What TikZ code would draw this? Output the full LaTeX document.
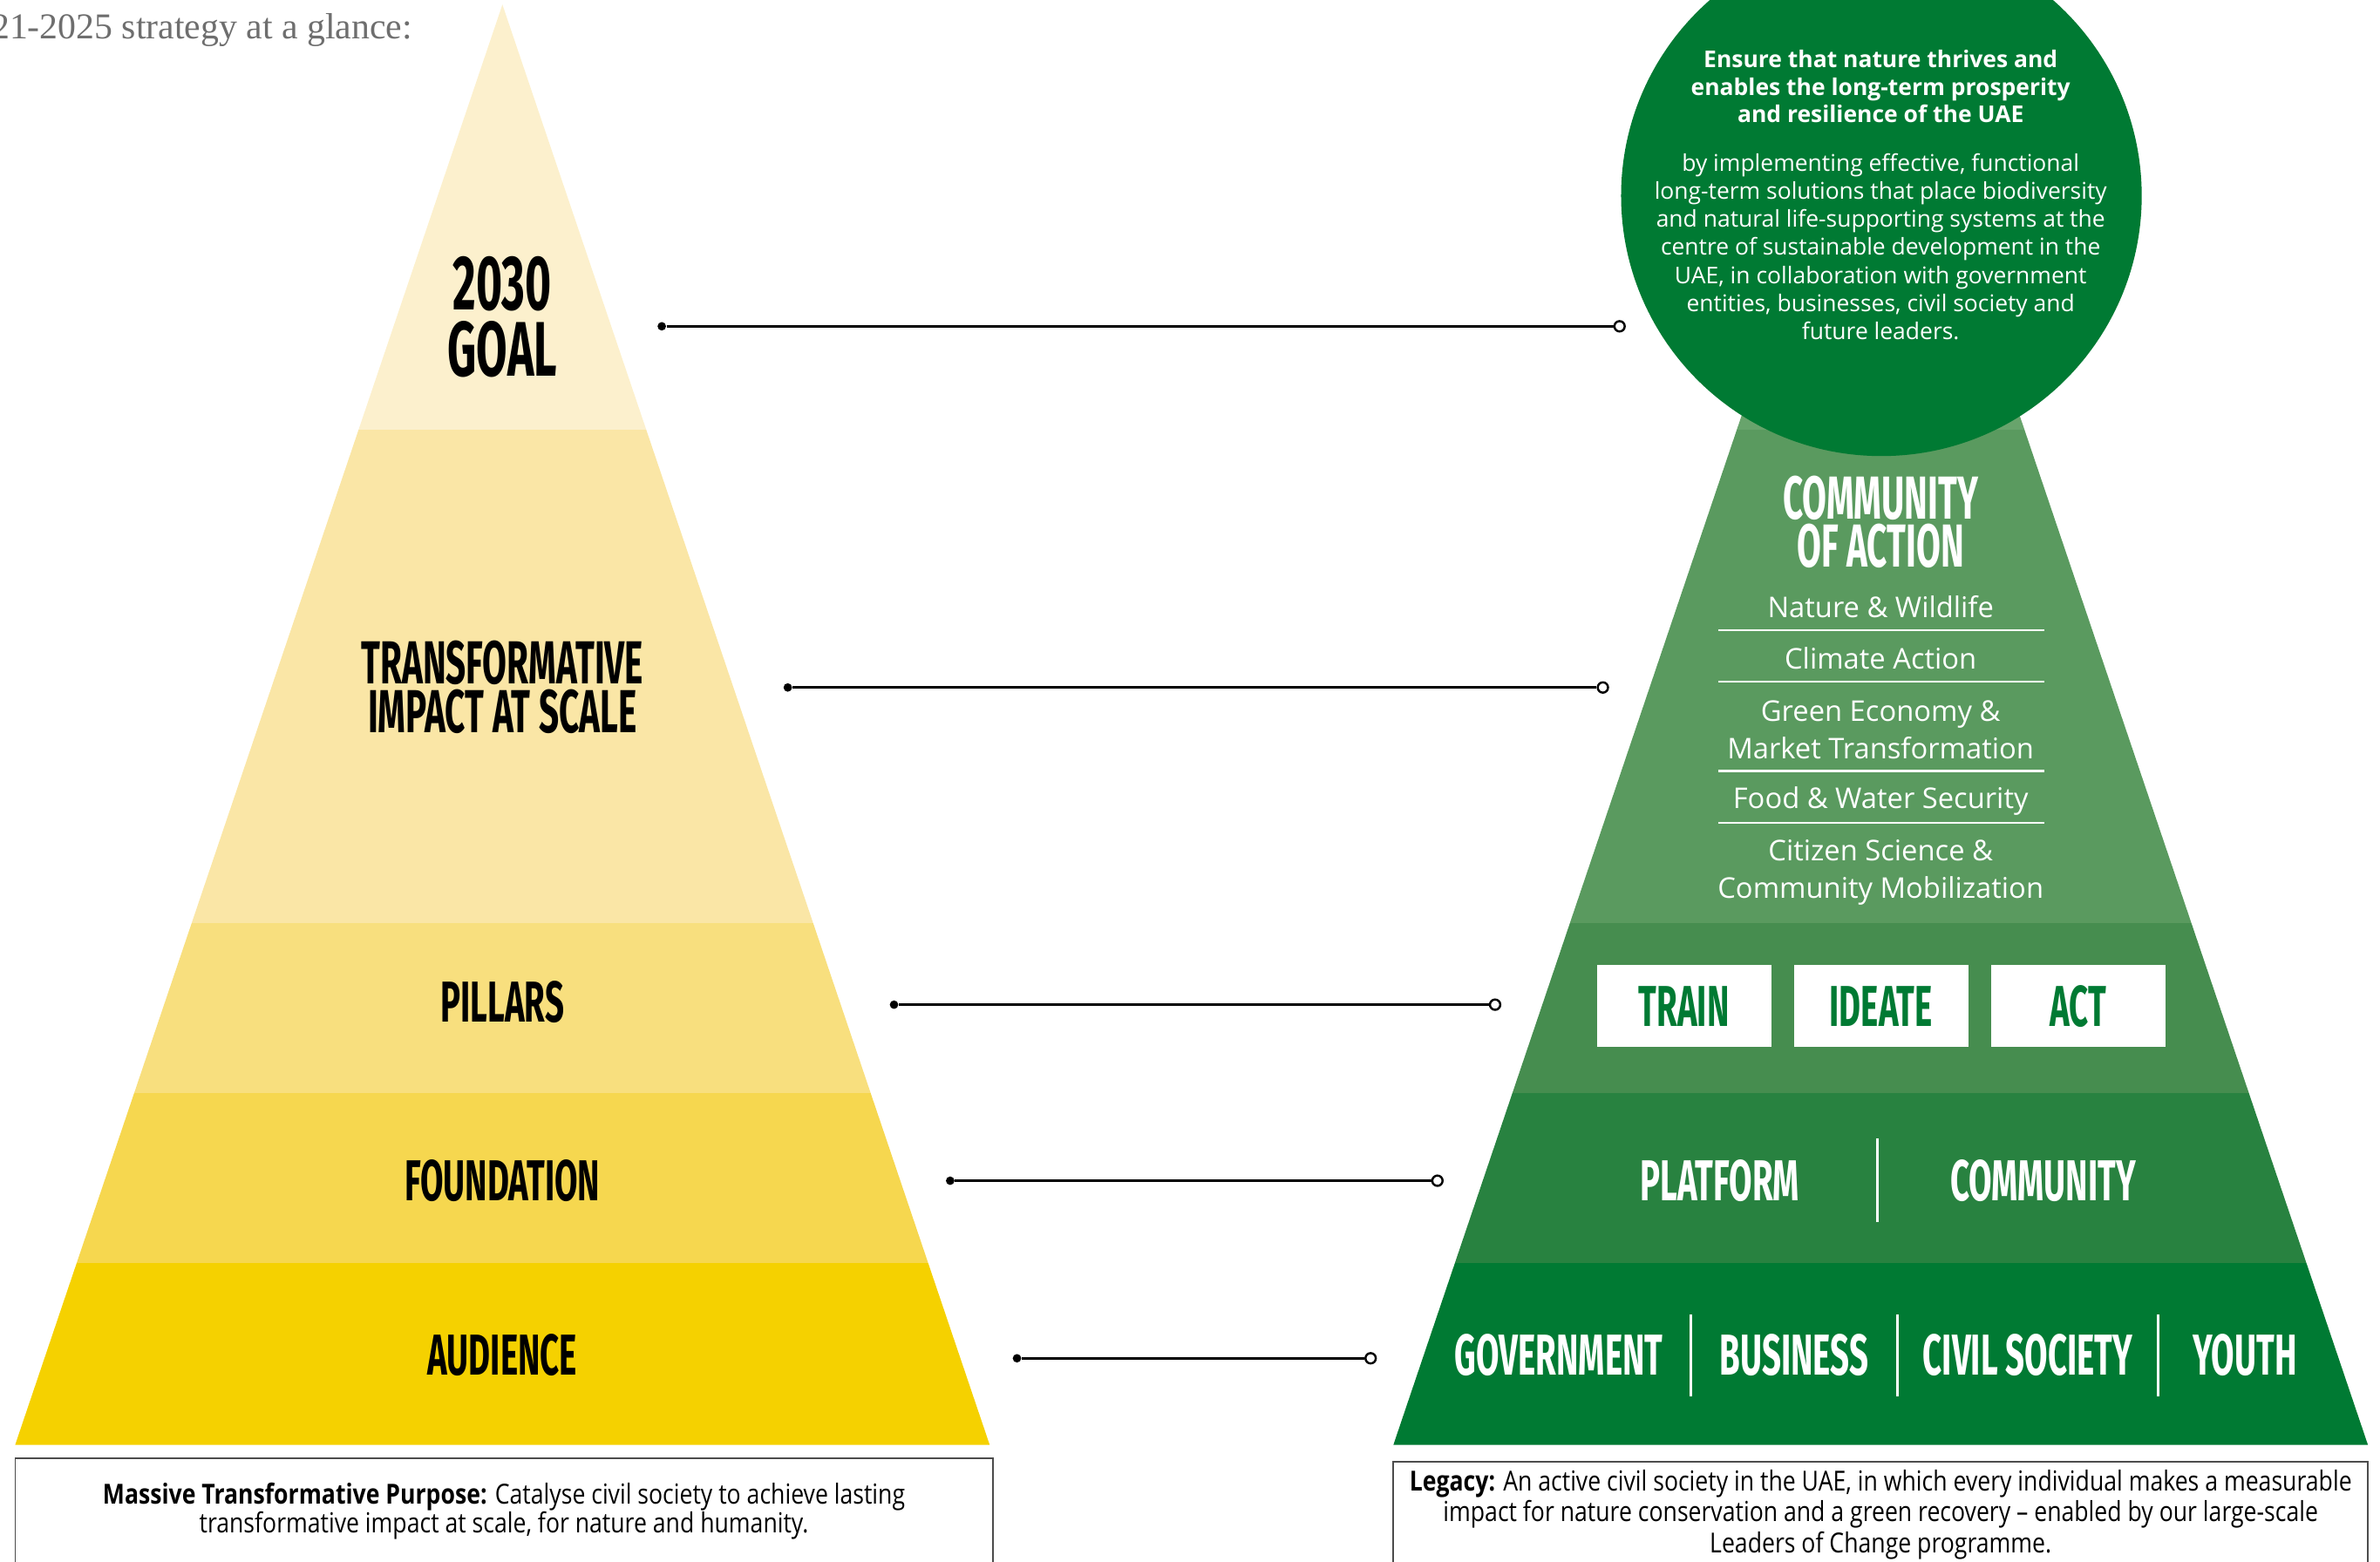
\documentclass[tikz,border=0pt]{standalone}
\usepackage{fontspec}
\setmainfont{Open Sans}
\newfontfamily\headfont{Fira Sans}[FakeStretch=0.58]
\newfontfamily\titlefont{Liberation Serif}
\newfontfamily\boxfont{Open Sans}[FakeStretch=0.84]
\usetikzlibrary{positioning}
\definecolor{goalY}{HTML}{FCF0CD}
\definecolor{impactY}{HTML}{FAE6A6}
\definecolor{pillarY}{HTML}{F8DF7E}
\definecolor{foundY}{HTML}{F6D74F}
\definecolor{audY}{HTML}{F5D100}
\definecolor{goalG}{HTML}{68A46C}
\definecolor{impactG}{HTML}{5A9A5F}
\definecolor{pillarG}{HTML}{468D4F}
\definecolor{foundG}{HTML}{288240}
\definecolor{audG}{HTML}{007A33}
\definecolor{titlegray}{HTML}{6E6E6E}

\begin{document}
\begin{tikzpicture}[
    x=0.5pt, y=-0.5pt,
    tier/.style={font=\headfont\bfseries\fontsize{19}{16}\selectfont, align=center, inner sep=0pt},
    tierG/.style={tier, text=white},
    action/.style={rectangle, fill=white, text=audG, inner sep=0pt, minimum width=57.5pt, minimum height=27pt, font=\headfont\bfseries\fontsize{19}{19}\selectfont},
    topic/.style={text=white, align=center, font=\fontsize{9.4}{12.5}\selectfont},
    dot/.style={circle, fill=black, inner sep=0pt, minimum size=2.8pt},
    ring/.style={circle, draw=black, fill=white, line width=0.7pt, inner sep=0pt, minimum size=3.4pt},
    link/.style={line width=0.8pt},
    caption/.style={font=\boxfont\fontsize{9.1}{9.5}\selectfont, align=center},
    boxline/.style={draw=black!70, line width=0.5pt}
]
\useasboundingbox (0,0) rectangle (1568,1029);

\node[anchor=east, inner sep=0pt, text=titlegray, font=\titlefont\fontsize{12}{12}\selectfont] (title) at (272,20) {2021-2025 strategy at a glance:};

\begin{scope}
\clip (331,3) -- (652,952) -- (10,952) -- cycle;
\fill[goalY] (0,0) rectangle (700,283);
\fill[impactY] (0,283) rectangle (700,608);
\fill[pillarY] (0,608) rectangle (700,720);
\fill[foundY] (0,720) rectangle (700,832);
\fill[audY] (0,832) rectangle (700,952);
\end{scope}

\begin{scope}
\clip (1239,3) -- (1560,952) -- (918,952) -- cycle;
\fill[goalG] (900,0) rectangle (1568,283);
\fill[impactG] (900,283) rectangle (1568,608);
\fill[pillarG] (900,608) rectangle (1568,720);
\fill[foundG] (900,720) rectangle (1568,832);
\fill[audG] (900,832) rectangle (1568,952);
\end{scope}

\node (goallbl) [tier, font=\headfont\bfseries\fontsize{25.5}{25.5}\selectfont] at (331,187) {2030};
\node (goallbl2) [tier, font=\headfont\bfseries\fontsize{25.5}{25.5}\selectfont] at (331,230) {GOAL};
\node (impactlbl) [tier, font=\headfont\bfseries\fontsize{20}{20}\selectfont] at (331,437) {TRANSFORMATIVE};
\node (impactlbl2) [tier, font=\headfont\bfseries\fontsize{20}{20}\selectfont] at (331,469) {IMPACT AT SCALE};
\node (pillarlbl) [tier] at (331,660) {PILLARS};
\node (foundlbl) [tier] at (331,778) {FOUNDATION};
\node (audlbl) [tier] at (331,893) {AUDIENCE};

\node (goal) [circle, fill=audG, inner sep=0pt, minimum size=171.5pt] at (1239.5,129) {};
\node (mission) [text=white, align=center, font=\bfseries\fontsize{7.6}{9}\selectfont] at (1239,57) {Ensure that nature thrives and\\enables the long-term prosperity\\and resilience of the UAE};
\node (means) [text=white, align=center, font=\fontsize{7.6}{9.25}\selectfont] at (1239,162.5) {by implementing effective, functional\\long-term solutions that place biodiversity\\and natural life-supporting systems at the\\centre of sustainable development in the\\UAE, in collaboration with government\\entities, businesses, civil society and\\future leaders.};

\node (coa) [tierG, font=\headfont\bfseries\fontsize{20}{20}\selectfont] at (1239,328) {COMMUNITY};
\node (coa2) [tierG, font=\headfont\bfseries\fontsize{20}{20}\selectfont] at (1239,360) {OF ACTION};
\node (nature) [topic] at (1239,400) {Nature \& Wildlife};
\node (climate) [topic] at (1239,434) {Climate Action};
\node (economy) [topic] at (1239,481) {Green Economy \&\\Market Transformation};
\node (food) [topic] at (1239,528) {Food \& Water Security};
\node (citizen) [topic] at (1239,575) {Citizen Science \&\\Community Mobilization};
\draw[white, line width=0.6pt] (1132,415) -- (1347,415);
\draw[white, line width=0.6pt] (1132,449) -- (1347,449);
\draw[white, line width=0.6pt] (1132,508) -- (1347,508);
\draw[white, line width=0.6pt] (1132,542) -- (1347,542);

\node (train) [action] at (1109.5,663) {TRAIN};
\node (ideate) [action, right=7pt of train] {IDEATE};
\node (act) [action, right=7pt of ideate] {ACT};

\node (platform) [tierG] at (1133,778) {PLATFORM};
\node (community) [tierG] at (1346,778) {COMMUNITY};
\draw[white, line width=0.9pt] (1237,750) -- (1237,805);

\node (gov) [tierG] at (1027,893) {GOVERNMENT};
\node (business) [tierG] at (1182,893) {BUSINESS};
\node (civil) [tierG] at (1336,893) {CIVIL SOCIETY};
\node (youth) [tierG] at (1479,893) {YOUTH};
\draw[white, line width=0.9pt] (1114,866) -- (1114,920);
\draw[white, line width=0.9pt] (1250,866) -- (1250,920);
\draw[white, line width=0.9pt] (1422,866) -- (1422,920);

\node (d1) [dot] at (436,215) {};
\node (r1) [ring] at (1067,215) {};
\node (d2) [dot] at (519,453) {};
\node (r2) [ring] at (1056,453) {};
\node (d3) [dot] at (589,662) {};
\node (r3) [ring] at (985,662) {};
\node (d4) [dot] at (626,778) {};
\node (r4) [ring] at (947,778) {};
\node (d5) [dot] at (670,895) {};
\node (r5) [ring] at (903,895) {};
\draw[link] (d1) -- (r1);
\draw[link] (d2) -- (r2);
\draw[link] (d3) -- (r3);
\draw[link] (d4) -- (r4);
\draw[link] (d5) -- (r5);

\draw[boxline] (10,961) rectangle (654,1060);
\draw[boxline] (918,963) rectangle (1560,1060);
\node (mtp) [caption] at (332,995.5) {\textbf{Massive Transformative Purpose:} Catalyse civil society to achieve lasting\\transformative impact at scale, for nature and humanity.};
\node (legacy) [caption, font=\boxfont\fontsize{9.1}{9}\selectfont] at (1239,998) {\textbf{Legacy:} An active civil society in the UAE, in which every individual makes a measurable\\impact for nature conservation and a green recovery – enabled by our large-scale\\Leaders of Change programme.};

\end{tikzpicture}
\end{document}
